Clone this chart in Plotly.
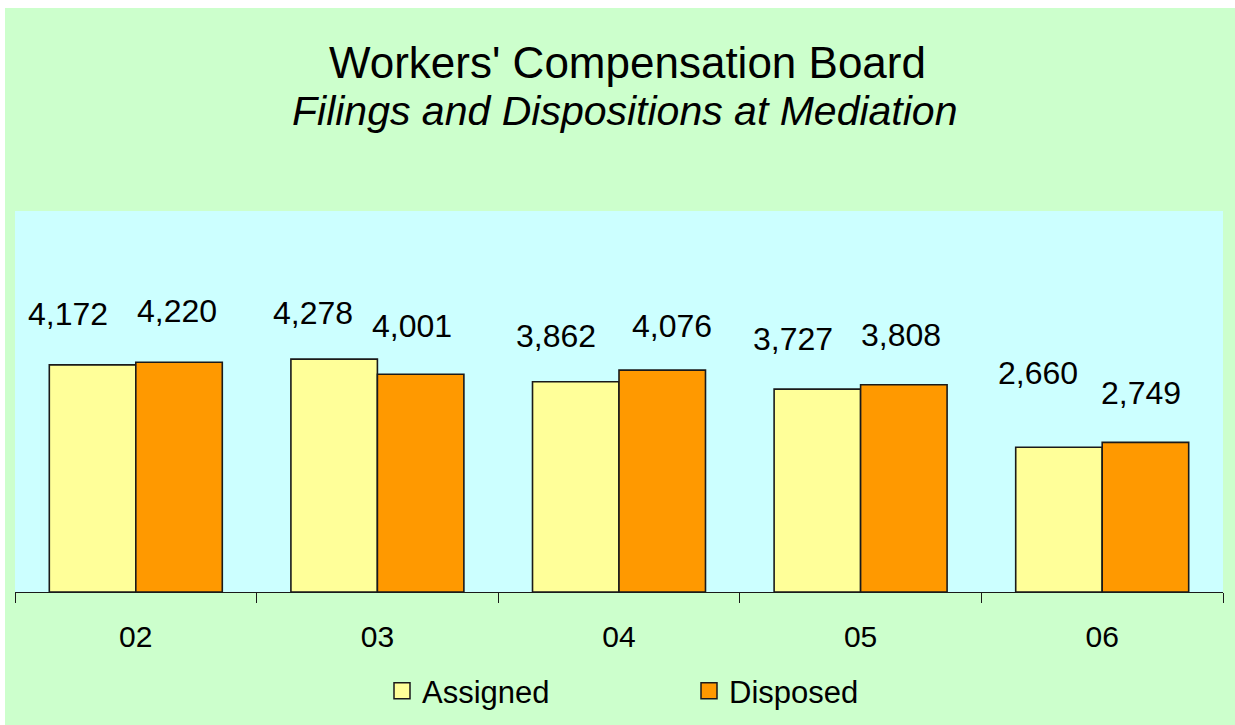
import plotly.graph_objects as go

# ---- data ----
years = ["02", "03", "04", "05", "06"]
assigned = [4172, 4278, 3862, 3727, 2660]
disposed = [4220, 4001, 4076, 3808, 2749]
series_names = ["Assigned", "Disposed"]
title_text = "Workers' Compensation Board"
subtitle_text = "Filings and Dispositions at Mediation"

# ---- styles / label placement (pixel offsets of labels from bar tops) ----
COL_A = "#FFFF99"
COL_D = "#FF9900"
PAPER = "#CCFFCC"
PLOT = "#CCFFFF"
EDGE = "#1a1a1a"
FONT = "Liberation Sans, Arial, sans-serif"
BARGAP = 0.284
DX_A = [-25, -21, -20, -24, -21]
DX_D = [-2, -9, 10, -3, -4]
DY_A = [51, 46, 46, 50, 74]
DY_D = [51, 48, 44, 50, 49]

W, H = 1235, 725
L, R, T, B = 15, 12, 211, 133
pw, ph = W - L - R, H - T - B

fig = go.Figure()
fig.add_trace(go.Bar(x=years, y=assigned, name=series_names[0], showlegend=False,
                     marker=dict(color=COL_A, line=dict(color=EDGE, width=1.6))))
fig.add_trace(go.Bar(x=years, y=disposed, name=series_names[1], showlegend=False,
                     marker=dict(color=COL_D, line=dict(color=EDGE, width=1.6))))
# legend-only entries (larger square swatches)
for nm, col in zip(series_names, [COL_A, COL_D]):
    fig.add_trace(go.Scatter(x=[None], y=[None], mode="markers", name=nm, hoverinfo="skip",
                             marker=dict(symbol="square", size=16, color=col,
                                         line=dict(color=EDGE, width=1.5))))

half = (1 - BARGAP) / 4
ann = []
for i, (a, d) in enumerate(zip(assigned, disposed)):
    ann.append(dict(x=i - half, y=a, xref="x", yref="y", text=f"{a:,}", showarrow=False,
                    yanchor="middle", xshift=DX_A[i], yshift=DY_A[i],
                    font=dict(family=FONT, size=32, color="black")))
    ann.append(dict(x=i + half, y=d, xref="x", yref="y", text=f"{d:,}", showarrow=False,
                    yanchor="middle", xshift=DX_D[i], yshift=DY_D[i],
                    font=dict(family=FONT, size=32, color="black")))

def px2x(p):
    return (p - L) / pw

def py2y(p):
    return (H - B - p) / ph

ann.append(dict(x=px2x(627), y=py2y(63), xref="paper", yref="paper", text=title_text,
                showarrow=False, xanchor="center", yanchor="middle",
                font=dict(family=FONT, size=44, color="black")))
ann.append(dict(x=px2x(624), y=py2y(111), xref="paper", yref="paper",
                text=f"<i>{subtitle_text}</i>",
                showarrow=False, xanchor="center", yanchor="middle",
                font=dict(family=FONT, size=41, color="black")))

shapes = [
    dict(type="rect", xref="paper", yref="paper", x0=px2x(-2), x1=px2x(W + 2),
         y0=py2y(8), y1=py2y(-2), fillcolor="white", line=dict(width=0), layer="below"),
    dict(type="rect", xref="paper", yref="paper", x0=px2x(-2), x1=px2x(5),
         y0=py2y(H + 2), y1=py2y(-2), fillcolor="white", line=dict(width=0), layer="below"),
]

fig.update_layout(
    width=W, height=H,
    margin=dict(l=L, r=R, t=T, b=B, pad=0, autoexpand=False),
    paper_bgcolor=PAPER, plot_bgcolor=PLOT,
    barmode="group", bargap=BARGAP, bargroupgap=0,
    font=dict(family=FONT, size=30, color="black"),
    annotations=ann, shapes=shapes,
    showlegend=True,
    legend=dict(orientation="h", x=px2x(382), xanchor="left", y=py2y(691), yanchor="middle",
                bgcolor="rgba(0,0,0,0)", font=dict(family=FONT, size=31, color="black"),
                entrywidth=262, itemclick=False, itemdoubleclick=False),
    xaxis=dict(type="category", showline=True, linecolor=EDGE, linewidth=1,
               ticks="outside", ticklen=10, tickcolor=EDGE, tickwidth=1,
               tickson="boundaries", showgrid=False, zeroline=False,
               tickfont=dict(family=FONT, size=30, color="black"), ticklabelstandoff=18),
    yaxis=dict(range=[0, 7000], showticklabels=False, showgrid=False, zeroline=False,
               showline=False, ticks=""),
)

fig.write_html("out.html", config={"displayModeBar": False},
               post_script="document.body.style.margin='0';document.body.style.overflow='hidden';")
